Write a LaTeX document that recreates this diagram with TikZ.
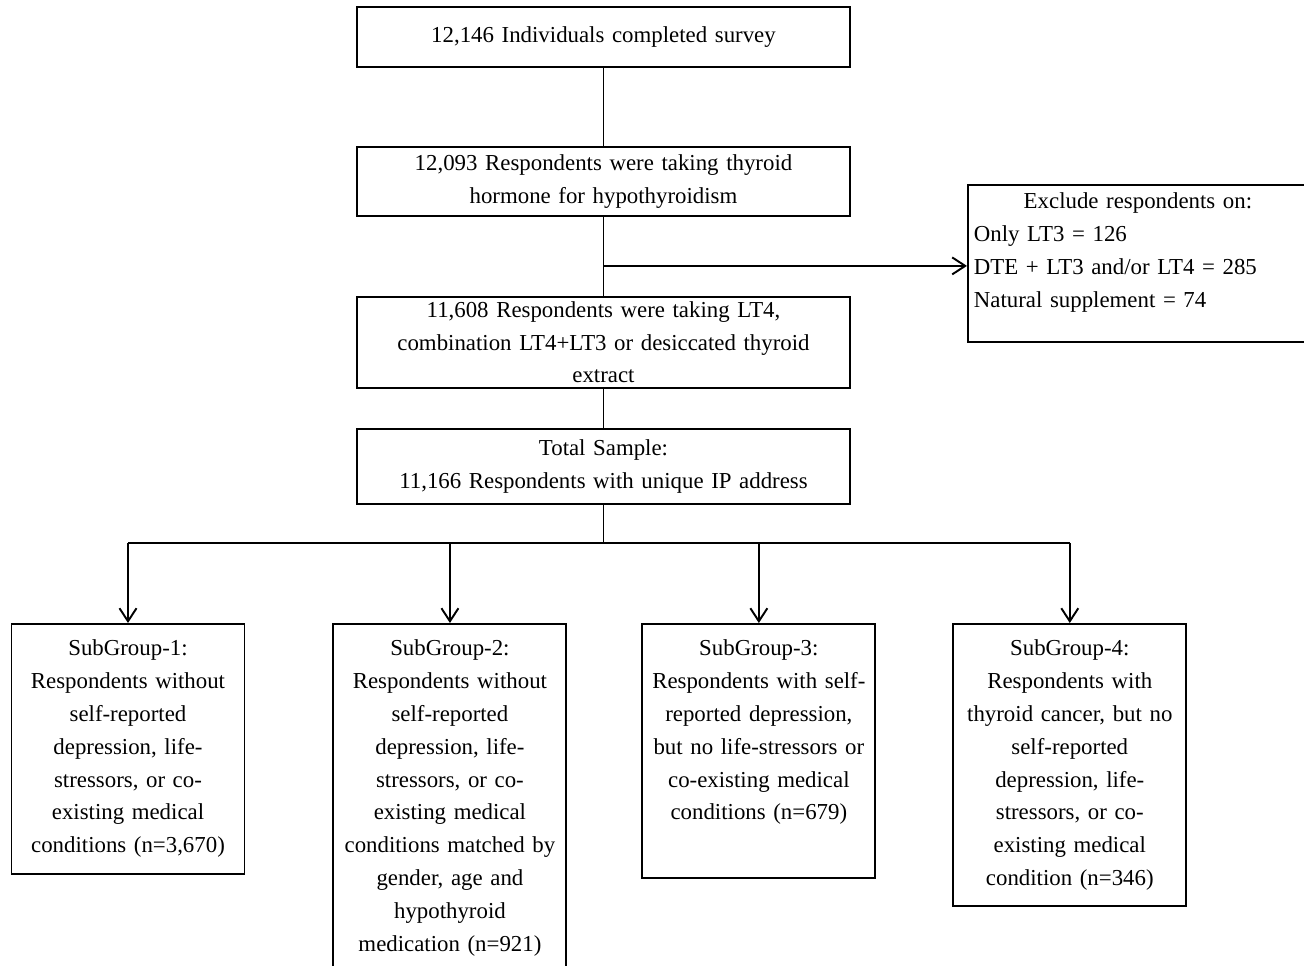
\documentclass[tikz,border=0pt]{standalone}
\usepackage{fontspec}
\setmainfont{Liberation Serif}
\usetikzlibrary{shapes, arrows.meta, positioning}

\begin{document}
\begin{tikzpicture}[nodes = {
draw=black,
align=center,
font=\fontsize{13pt}{18.66pt}\selectfont
},
line width=1.1pt,
stage/.style = {text width=9.66cm, inner xsep=0.1cm, inner ysep=0cm},
group/.style = {anchor=north, text width=4.5cm, inner xsep=0.08cm, inner ysep=0.2cm, text height=0.44cm},
pointer/.style = {-{Straight Barb[length=2.6mm,width=3.4mm]}}]

\useasboundingbox (0,0) rectangle (26.08,-19.3);
\clip (0,0) rectangle (26.08,-19.3);

% main flow
\node (survey) [stage, minimum height=1.2cm] at (12.07,-0.74) {12,146 Individuals completed survey};
\node (hormone) [stage, minimum height=1.38cm, below = 1.56cm of survey] {12,093 Respondents were taking thyroid\\hormone for hypothyroidism};
\node (therapy) [stage, minimum height=1.82cm, below = 1.58cm of hormone] {11,608 Respondents were taking LT4,\\combination LT4+LT3 or desiccated thyroid\\extract};
\node (sample) [stage, minimum height=1.5cm, below = 0.78cm of therapy] {Total Sample:\\11,166 Respondents with unique IP address};

% exclusions
\node (exclude) [below right = 0.76cm and 2.32cm of hormone.north east, align=left, text width=6.56cm, inner xsep=0.12cm, inner ysep=0.1cm, text height=0.38cm, text depth=2.56cm] {
\makebox[\linewidth]{Exclude respondents on:}\\
Only LT3 = 126\\
DTE + LT3 and/or LT4 = 285\\
Natural supplement = 74
};

% subgroups
\node (sub1) [group, text depth=4.16cm] at (2.56,-12.46) {
SubGroup-1:\\
Respondents without\\
self-reported\\
depression, life-\\
stressors, or co-\\
existing medical\\
conditions (n=3,670)
};
\node (sub2) [group, text depth=6.14cm, below right = 0cm and 1.74cm of sub1.north east] {
SubGroup-2:\\
Respondents without\\
self-reported\\
depression, life-\\
stressors, or co-\\
existing medical\\
conditions matched by\\
gender, age and\\
hypothyroid\\
medication (n=921)
};
\node (sub3) [group, text depth=4.24cm, below right = 0cm and 1.48cm of sub2.north east] {
SubGroup-3:\\
Respondents with self-\\
reported depression,\\
but no life-stressors or\\
co-existing medical\\
conditions (n=679)
};
\node (sub4) [group, text depth=4.8cm, below right = 0cm and 1.52cm of sub3.north east] {
SubGroup-4:\\
Respondents with\\
thyroid cancer, but no\\
self-reported\\
depression, life-\\
stressors, or co-\\
existing medical\\
condition (n=346)
};

% connections
\coordinate (split) at ([yshift=-0.98cm]hormone.south);
\coordinate (fork) at ([yshift=-0.76cm]sample.south);
\draw (survey) -- (hormone);
\draw (hormone) -- (therapy);
\draw [pointer] (split) -- (split -| exclude.west);
\draw (therapy) -- (sample);
\draw (sample) -- (fork);
\draw (fork -| sub1.north) -- (fork -| sub4.north);
\foreach \g in {sub1,sub2,sub3,sub4}
\draw [pointer] (fork -| \g.north) -- (\g);

\end{tikzpicture}
\end{document}
